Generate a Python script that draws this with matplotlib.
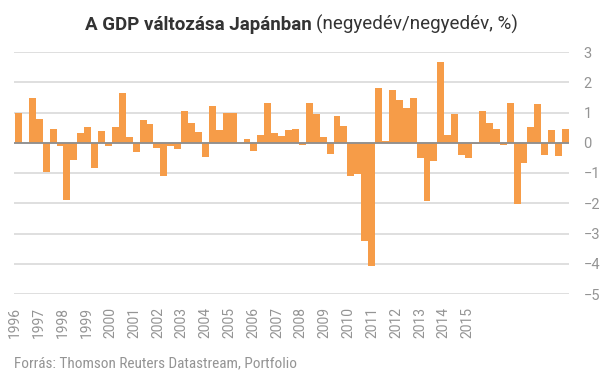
import numpy as np
import matplotlib
matplotlib.use("Agg")
from matplotlib import pyplot as plt
from matplotlib import font_manager

# negyedéves GDP változás (%), 1996 Q1 - 2015 Q4
gdp = [1.00, 0.00, 1.47, 0.77, -0.98, 0.44, -0.12, -1.88, -0.57, 0.31,
       0.51, -0.85, 0.38, -0.12, 0.51, 1.64, 0.18, -0.29, 0.74, 0.61,
       -0.19, -1.10, -0.12, -0.21, 1.04, 0.64, 0.34, -0.48, 1.20, 0.41,
       1.00, 1.00, 0.00, 0.11, -0.28, 0.24, 1.30, 0.31, 0.21, 0.41,
       0.44, -0.08, 1.30, 0.94, 0.18, -0.38, 0.87, 0.57, -1.10, -1.04,
       -3.26, -4.09, 1.80, 0.06, 1.73, 1.40, 1.14, 1.47, -0.51, -1.93,
       -0.61, 2.66, 0.24, 0.94, -0.41, -0.51, -0.04, 1.04, 0.64, 0.44,
       -0.08, 1.30, -2.03, -0.67, 0.51, 1.27, -0.41, 0.41, -0.44, 0.44]
years = [str(y) for y in range(1996, 2016)]
yticks = [3, 2, 1, 0, -1, -2, -3, -4, -5]

names = {f.name for f in font_manager.fontManager.ttflist}
narrow = "Roboto"
for cand in ["Roboto Condensed", "Liberation Sans Narrow"]:
    if cand in names:
        narrow = cand
        break
plt.rcParams["font.family"] = "Roboto"

bar_color = "#F69C48"
grid_color = "#D9D9D9"
label_color = "#949494"

fig = plt.figure(figsize=(6.05, 3.78), dpi=100)
ax = fig.add_axes([14 / 605, 84 / 378, 555 / 605, 242 / 378])

x = np.arange(len(gdp))
ax.bar(x, gdp, width=1.0, color=bar_color, zorder=2)
ax.axhline(0, color="#8E8E8E", lw=1.3, zorder=3)

ax.set_ylim(-5, 3)
ax.set_xlim(-0.5 - 1 / 6.93, len(gdp) - 0.5)
ax.set_yticks(yticks)
ax.yaxis.tick_right()
ax.grid(axis="y", color=grid_color, lw=1.2, zorder=0)
ax.set_axisbelow(True)
for s in ax.spines.values():
    s.set_visible(False)

# az év-feliratok sűrűbben vannak, mint a negyedévek
step = 3.44
ax.set_xticks(-0.5 + step * np.arange(len(years)))
ax.set_xticklabels(years, rotation=90, va="top", ha="center")
ax.tick_params(axis="x", length=0, pad=9, labelsize=10, labelcolor=label_color)
ax.tick_params(axis="y", length=0, pad=10.5, labelsize=10.5, labelcolor=label_color)

# cím: félkövér + normál rész
t1 = fig.text(85 / 605, 1 - 30 / 378, "A GDP változása Japánban",
              fontsize=13.5, fontweight="bold", color="#333333", va="baseline")
fig.canvas.draw()
bb = t1.get_window_extent()
fig.text((bb.x1 + 4) / 605, 1 - 30 / 378, "(negyedév/negyedév, %)",
         fontsize=13.5, color="#333333", va="baseline")

fig.text(14 / 605, 1 - 367 / 378, "Forrás: Thomson Reuters Datastream, Portfolio",
         fontsize=11, color=label_color, va="baseline", family=narrow)

fig.savefig("out.png", dpi=100)
